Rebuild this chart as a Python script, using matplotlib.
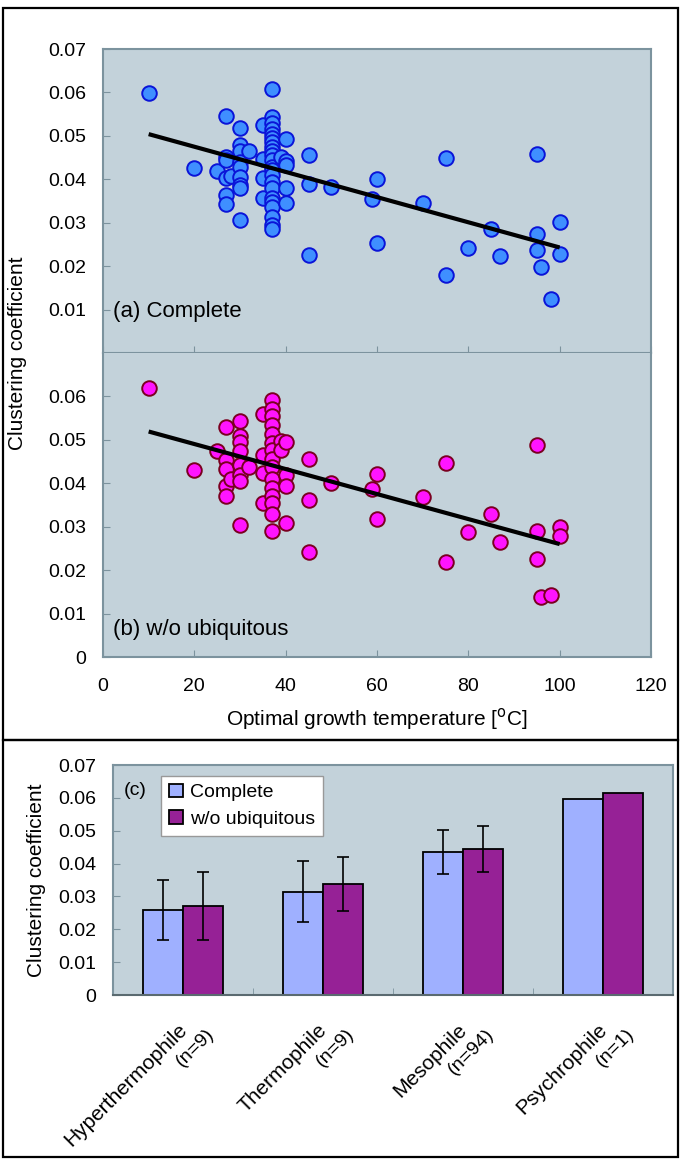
import matplotlib
matplotlib.use("Agg")
import matplotlib.pyplot as plt
import numpy as np
from matplotlib.patches import Rectangle

plt.rcParams['font.family'] = ['Liberation Sans', 'DejaVu Sans']

# ---- data: panel (a) complete networks ----
temp_a = [10, 20, 25,
          27, 27, 27, 27, 27, 27, 28,
          30, 30, 30, 30, 30, 30, 30, 30, 30, 32,
          35, 35, 35, 35,
          37, 37, 37, 37, 37, 37, 37, 37, 37, 37, 37,
          37, 37, 37, 37, 37, 37, 37, 37, 37, 37, 37,
          39, 40, 40, 40, 40, 40,
          45, 45, 45, 50, 59, 60, 60, 70, 75, 75, 80, 85, 87,
          95, 95, 95, 96, 98, 100, 100]
clus_a = [0.0598, 0.0425, 0.0419,
          0.0546, 0.0451, 0.0445, 0.0402, 0.0364, 0.0343, 0.0408,
          0.0517, 0.0479, 0.0464, 0.0440, 0.0429, 0.0406, 0.0387, 0.0379, 0.0306, 0.0464,
          0.0525, 0.0446, 0.0402, 0.0358,
          0.0609, 0.0544, 0.0529, 0.0515, 0.0505, 0.0494, 0.0485, 0.0475, 0.0465, 0.0456, 0.0445,
          0.0429, 0.0421, 0.0410, 0.0394, 0.0380, 0.0356, 0.0347, 0.0337, 0.0314, 0.0295, 0.0285,
          0.0451, 0.0492, 0.0441, 0.0434, 0.0379, 0.0346,
          0.0456, 0.0389, 0.0226, 0.0382, 0.0354, 0.0401, 0.0254, 0.0346, 0.0448, 0.0180,
          0.0241, 0.0286, 0.0224,
          0.0458, 0.0274, 0.0237, 0.0199, 0.0124, 0.0301, 0.0227]
fit_a = (0.0533, -0.000290)   # intercept, slope

# ---- data: panel (b) without ubiquitous genes ----
temp_b = [10, 20, 25,
          27, 27, 27, 27, 27, 28,
          30, 30, 30, 30, 30, 30, 30, 30, 32,
          35, 35, 35, 35,
          37, 37, 37, 37, 37, 37, 37, 37, 37, 37, 37, 37, 37, 37, 37,
          39, 39, 40, 40, 40, 40,
          45, 45, 45, 50, 59, 60, 60, 70, 75, 75, 80, 85, 87,
          95, 95, 95, 96, 98, 100, 100]
clus_b = [0.0619, 0.0431, 0.0475,
          0.0529, 0.0454, 0.0434, 0.0393, 0.0370, 0.0410,
          0.0544, 0.0510, 0.0495, 0.0475, 0.0442, 0.0418, 0.0406, 0.0305, 0.0437,
          0.0560, 0.0465, 0.0424, 0.0354,
          0.0592, 0.0571, 0.0556, 0.0534, 0.0514, 0.0493, 0.0476, 0.0456, 0.0437, 0.0410,
          0.0388, 0.0371, 0.0355, 0.0329, 0.0291,
          0.0498, 0.0476, 0.0494, 0.0418, 0.0394, 0.0309,
          0.0457, 0.0362, 0.0241, 0.0401, 0.0387, 0.0421, 0.0318, 0.0369, 0.0446, 0.0218,
          0.0287, 0.0329, 0.0264,
          0.0488, 0.0289, 0.0226, 0.0139, 0.0143, 0.0299, 0.0278]
fit_b = (0.0548, -0.000288)
fit_range = [10, 100]

# ---- data: panel (c) group means ----
groups = ['Hyperthermophile', 'Thermophile', 'Mesophile', 'Psychrophile']
group_n = ['(n=9)', '(n=9)', '(n=94)', '(n=1)']
mean_complete = [0.0259, 0.0315, 0.0435, 0.0597]
err_complete = [0.0091, 0.0092, 0.0066, 0.0]
mean_wo = [0.0270, 0.0339, 0.0445, 0.0615]
err_wo = [0.0104, 0.0082, 0.0070, 0.0]

# ---- layout helpers (pixels of the 685x1161 image) ----
W, H = 685, 1161
fig = plt.figure(figsize=(W / 100, H / 100), dpi=100)

def px_rect(l, t, r, b):
    return [l / W, 1 - b / H, (r - l) / W, (b - t) / H]

bg = '#c3d2da'
spine_c = '#7c939e'
tick_fs = 14
lab_fs = 15

ax_a = fig.add_axes(px_rect(103, 49, 651, 353))
ax_b = fig.add_axes(px_rect(103, 353, 651, 657))

for ax, t, c, fit, face, edge in [(ax_a, temp_a, clus_a, fit_a, '#3f8fff', '#0a14d8'),
                                  (ax_b, temp_b, clus_b, fit_b, '#ff14ff', '#7a0020')]:
    ax.set_facecolor(bg)
    ax.scatter(t, c, s=110, c=face, edgecolors=edge, linewidths=1.4, zorder=3)
    xs = np.array(fit_range)
    ax.plot(xs, fit[0] + fit[1] * xs, color='black', lw=3, zorder=4, solid_capstyle='butt')
    ax.set_xlim(0, 120)
    ax.set_ylim(0, 0.07)
    for s in ax.spines.values():
        s.set_color(spine_c)
        s.set_linewidth(1.5)
    ax.tick_params(direction='in', length=5, color=spine_c, labelsize=tick_fs)
    ax.tick_params(axis='y', pad=12)
    ax.tick_params(axis='x', pad=15)
    ax.set_xticks(np.arange(0, 121, 20))

ax_a.set_yticks([0.01, 0.02, 0.03, 0.04, 0.05, 0.06, 0.07])
ax_a.set_yticklabels(['0.01', '0.02', '0.03', '0.04', '0.05', '0.06', '0.07'])
ax_a.tick_params(axis='x', labelbottom=False)
ax_b.set_yticks([0, 0.01, 0.02, 0.03, 0.04, 0.05, 0.06])
ax_b.set_yticklabels(['0', '0.01', '0.02', '0.03', '0.04', '0.05', '0.06'])
ax_b.set_xticklabels(['0', '20', '40', '60', '80', '100', '120'])
ax_b.spines['top'].set_visible(False)

ax_a.text(0.018, 0.135, '(a) Complete', transform=ax_a.transAxes, fontsize=16, va='center')
ax_b.text(0.018, 0.09, '(b) w/o ubiquitous', transform=ax_b.transAxes, fontsize=16, va='center')
ax_b.set_xlabel('Optimal growth temperature [$^{\\rm o}$C]', fontsize=lab_fs, labelpad=8)
fig.text(18 / W, 1 - 353 / H, 'Clustering coefficient', rotation=90, fontsize=lab_fs,
         ha='center', va='center')

# ---- bar chart ----
ax_c = fig.add_axes(px_rect(113, 765, 673, 995))
ax_c.set_facecolor(bg)
x = np.arange(len(groups))
bw = 0.285
ax_c.bar(x - bw / 2, mean_complete, bw, color='#9fb0ff', edgecolor='black', lw=1.3,
         label='Complete', zorder=2)
ax_c.bar(x + bw / 2, mean_wo, bw, color='#962196', edgecolor='black', lw=1.3,
         label='w/o ubiquitous', zorder=2)
ax_c.errorbar(x[:3] - bw / 2, mean_complete[:3], yerr=err_complete[:3], fmt='none',
              ecolor='black', elinewidth=1.2, capsize=4, capthick=1.2, zorder=3)
ax_c.errorbar(x[:3] + bw / 2, mean_wo[:3], yerr=err_wo[:3], fmt='none',
              ecolor='black', elinewidth=1.2, capsize=4, capthick=1.2, zorder=3)
ax_c.set_xlim(-0.5, 3.5)
ax_c.set_ylim(0, 0.07)
ax_c.set_yticks(np.arange(0, 0.0701, 0.01))
ax_c.set_yticklabels(['0', '0.01', '0.02', '0.03', '0.04', '0.05', '0.06', '0.07'])
ax_c.set_xticks([0.5, 1.5, 2.5], minor=True)
ax_c.set_xticks(x)
ax_c.set_xticklabels([])
ax_c.tick_params(axis='x', which='both', length=0)
ax_c.tick_params(axis='x', which='minor', direction='in', length=5, color=spine_c)
ax_c.tick_params(axis='y', direction='in', length=5, color=spine_c, labelsize=tick_fs, pad=12)
for s in ax_c.spines.values():
    s.set_color(spine_c)
    s.set_linewidth(1.5)
ax_c.spines['bottom'].set_color('#5a6a70')
ax_c.set_ylabel('Clustering coefficient', fontsize=lab_fs, labelpad=9)
ax_c.text(0.02, 0.891, '(c)', transform=ax_c.transAxes, fontsize=14, va='center')
leg = ax_c.legend(loc='upper left', bbox_to_anchor=(0.086, 0.952), fontsize=14,
                  frameon=True, fancybox=False, framealpha=1, edgecolor='#999999',
                  handlelength=0.7, handleheight=0.7, handletextpad=0.4,
                  borderpad=0.4, labelspacing=0.45, borderaxespad=0)
leg.get_frame().set_linewidth(1.0)

# rotated category labels, two lines each
for xi, name, n in zip(x, groups, group_n):
    ax_c.annotate(name, xy=(xi, 0), xycoords=('data', 'axes fraction'),
                  xytext=(-4, -18), textcoords='offset points', rotation=45,
                  rotation_mode='anchor', ha='right', va='top', fontsize=lab_fs)
    ax_c.annotate(n, xy=(xi, 0), xycoords=('data', 'axes fraction'),
                  xytext=(16, -22), textcoords='offset points', rotation=45,
                  rotation_mode='anchor', ha='right', va='top', fontsize=14)

# outer frames
for top, bot in [(8, 740), (740, 1157)]:
    fig.add_artist(Rectangle((3 / W, 1 - bot / H), 675 / W, (bot - top) / H,
                             transform=fig.transFigure, fill=False, edgecolor='black', lw=1.6))

fig.savefig('out.png', dpi=100)
